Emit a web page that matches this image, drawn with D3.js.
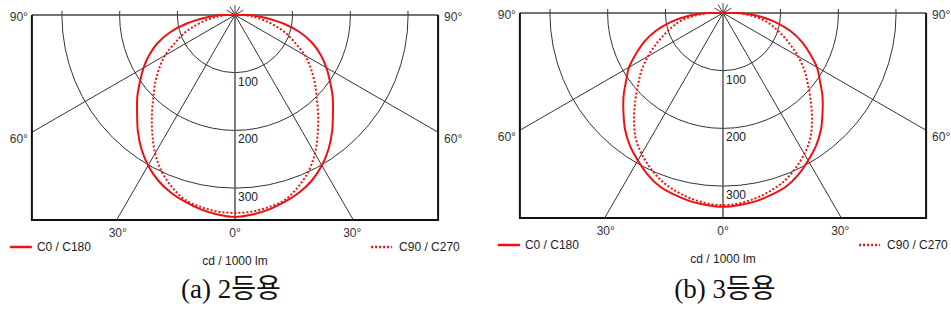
<!DOCTYPE html>
<html>
<head>
<meta charset="utf-8">
<script src="https://cdn.jsdelivr.net/npm/d3@7"></script>
<style>
  body { margin: 0; background: #fff; }
  text { font-family: "Liberation Sans", Arial, sans-serif; }
</style>
</head>
<body>
<div id="chart"></div>
<script>
// chart size
let svgWidth = 951;
let svgHeight = 319;

// gamma angles (deg from nadir) and intensities in cd / 1000 lm
let angles = [0, 5, 10, 15, 20, 25, 30, 35, 40, 45, 50, 55, 60, 65, 70, 75, 80, 85, 90];
let c0A  = [350, 347, 342, 335, 327, 316, 301, 283, 262, 240, 221, 201, 183, 164, 143, 117, 85, 50, 28];
let c90A = [343, 342, 338, 332, 318, 300, 277, 250, 224, 200, 180, 160, 140, 115, 95, 72, 50, 30, 15];
let c0B  = [336, 334, 331, 326, 320, 309, 295, 281, 264, 244, 225, 205, 188, 166, 145, 121, 93, 61, 30];
let c90B = [333, 331, 326, 319, 310, 297, 282, 264, 240, 215, 192, 172, 150, 128, 108, 90, 72, 48, 25];

let ringTicks = [100, 200, 300];
let spokeAngles = [-60, -30, 30, 60];
let bottomLabels = [-30, 0, 30];
let sideLabels = [90, 60];
let captions = ["(a) 2등용", "(b) 3등용"];
let legendNames = ["C0 / C180", "C90 / C270"];
let unitLabel = "cd / 1000 lm";

let panels = [
  { cx: 235, cy: 15, c0: c0A, c90: c90A, caption: captions[0], capDx: -4 },
  { cx: 723, cy: 13, c0: c0B, c90: c90B, caption: captions[1], capDx: 2 }
];

let rMax = 352;
let rScale = d3.scaleLinear().domain([0, 100]).range([0, 57.7]);
let red = "#ee1111";

let svg = d3.select("#chart")
  .append("svg")
  .attr("width", svgWidth)
  .attr("height", svgHeight);

let defs = svg.append("defs");

function toXY(p, deg, value) {
  let t = deg * Math.PI / 180;
  let r = rScale(value);
  return [p.cx + r * Math.sin(t), p.cy + r * Math.cos(t)];
}

// curve points: C0 on the left half, C180 mirrored on the right
function curvePoints(p, vals) {
  let pts = [];
  for (let i = angles.length - 1; i >= 0; i--) pts.push(toXY(p, -angles[i], vals[i]));
  for (let i = 1; i < angles.length; i++) pts.push(toXY(p, angles[i], vals[i]));
  return pts;
}

let line = d3.line().curve(d3.curveCatmullRom.alpha(0.5));

panels.forEach((p, k) => {
  let g = svg.append("g");
  let half = rScale(rMax);
  let left = p.cx - half, right = p.cx + half, bottom = p.cy + half + 2;

  let clipId = "clip" + k;
  defs.append("clipPath").attr("id", clipId)
    .append("rect")
    .attr("x", left).attr("y", p.cy - 4)
    .attr("width", right - left).attr("height", bottom - p.cy + 4);

  let grid = g.append("g").attr("clip-path", `url(#${clipId})`);

  // rings
  grid.selectAll("circle.ring")
    .data(ringTicks)
    .join("circle")
    .attr("cx", p.cx).attr("cy", p.cy)
    .attr("r", d => rScale(d))
    .attr("fill", "none")
    .attr("stroke", "#333")
    .attr("stroke-width", 1);

  // spokes
  grid.selectAll("line.spoke")
    .data(spokeAngles)
    .join("line")
    .attr("x1", p.cx).attr("y1", p.cy)
    .attr("x2", d => toXY(p, d, 600)[0])
    .attr("y2", d => toXY(p, d, 600)[1])
    .attr("stroke", "#333")
    .attr("stroke-width", 1);

  // little star above the centre
  g.selectAll("line.star")
    .data([120, 150, 180, 210, 240])
    .join("line")
    .attr("x1", p.cx).attr("y1", p.cy)
    .attr("x2", d => toXY(p, d, 17)[0])
    .attr("y2", d => toXY(p, d, 17)[1])
    .attr("stroke", "#444")
    .attr("stroke-width", 1);

  // vertical axis (0 deg)
  g.append("line")
    .attr("x1", p.cx).attr("x2", p.cx)
    .attr("y1", p.cy).attr("y2", bottom)
    .attr("stroke", "#555").attr("stroke-width", 1.5);

  // top line (90 deg)
  g.append("line")
    .attr("x1", left).attr("x2", right)
    .attr("y1", p.cy).attr("y2", p.cy)
    .attr("stroke", "#444").attr("stroke-width", 1.5);

  // frame
  g.append("path")
    .attr("d", `M${left},${p.cy}V${bottom}H${right}V${p.cy}`)
    .attr("fill", "none")
    .attr("stroke", "#111")
    .attr("stroke-width", 2);

  // ring labels
  g.selectAll("text.ring")
    .data(ringTicks)
    .join("text")
    .attr("x", p.cx + 3)
    .attr("y", d => p.cy + rScale(d) + 13)
    .attr("font-size", 12)
    .attr("fill", "#222")
    .text(d => d);

  // curves
  let curves = g.append("g").attr("fill", "none").attr("stroke", red);
  curves.append("path")
    .attr("d", line(curvePoints(p, p.c90)) + "Z")
    .attr("stroke-width", 2)
    .attr("stroke-dasharray", "2,2");
  curves.append("path")
    .attr("d", line(curvePoints(p, p.c0)) + "Z")
    .attr("stroke-width", 2);

  // angle labels under the frame, where the spokes meet the bottom edge
  g.selectAll("text.bottom")
    .data(bottomLabels)
    .join("text")
    .attr("x", d => p.cx + half * Math.tan(d * Math.PI / 180))
    .attr("y", p.cy + 222)
    .attr("text-anchor", "middle")
    .attr("font-size", 12)
    .attr("fill", "#333")
    .text(d => Math.abs(d) + "°");

  // angle labels beside the frame
  sideLabels.forEach(a => {
    let yy = a === 90 ? p.cy + 6 : p.cy + half / Math.tan(a * Math.PI / 180) + 11;
    g.append("text")
      .attr("x", left - 4).attr("y", yy)
      .attr("text-anchor", "end")
      .attr("font-size", 12).attr("fill", "#333")
      .text(a + "°");
    g.append("text")
      .attr("x", right + 6).attr("y", yy)
      .attr("font-size", 12).attr("fill", "#333")
      .text(a + "°");
  });

  // legend
  let ly = p.cy + 232;
  g.append("line")
    .attr("x1", left - 22).attr("x2", left).attr("y1", ly).attr("y2", ly)
    .attr("stroke", red).attr("stroke-width", 2.5);
  g.append("text")
    .attr("x", left + 5).attr("y", ly + 4)
    .attr("font-size", 12).attr("fill", "#222")
    .text(legendNames[0]);
  g.append("line")
    .attr("x1", right - 67).attr("x2", right - 46).attr("y1", ly).attr("y2", ly)
    .attr("stroke", red).attr("stroke-width", 2.5)
    .attr("stroke-dasharray", "2,2");
  g.append("text")
    .attr("x", right - 39).attr("y", ly + 4)
    .attr("font-size", 12).attr("fill", "#222")
    .text(legendNames[1]);

  g.append("text")
    .attr("x", p.cx).attr("y", p.cy + 250)
    .attr("text-anchor", "middle")
    .attr("font-size", 12).attr("fill", "#222")
    .text(unitLabel);

  // caption
  g.append("text")
    .attr("x", p.cx + p.capDx).attr("y", 298)
    .attr("text-anchor", "middle")
    .attr("font-size", 27)
    .attr("fill", "#111")
    .style("font-family", "'Liberation Serif', 'Noto Sans CJK KR', serif")
    .text(p.caption);
});
</script>
</body>
</html>
